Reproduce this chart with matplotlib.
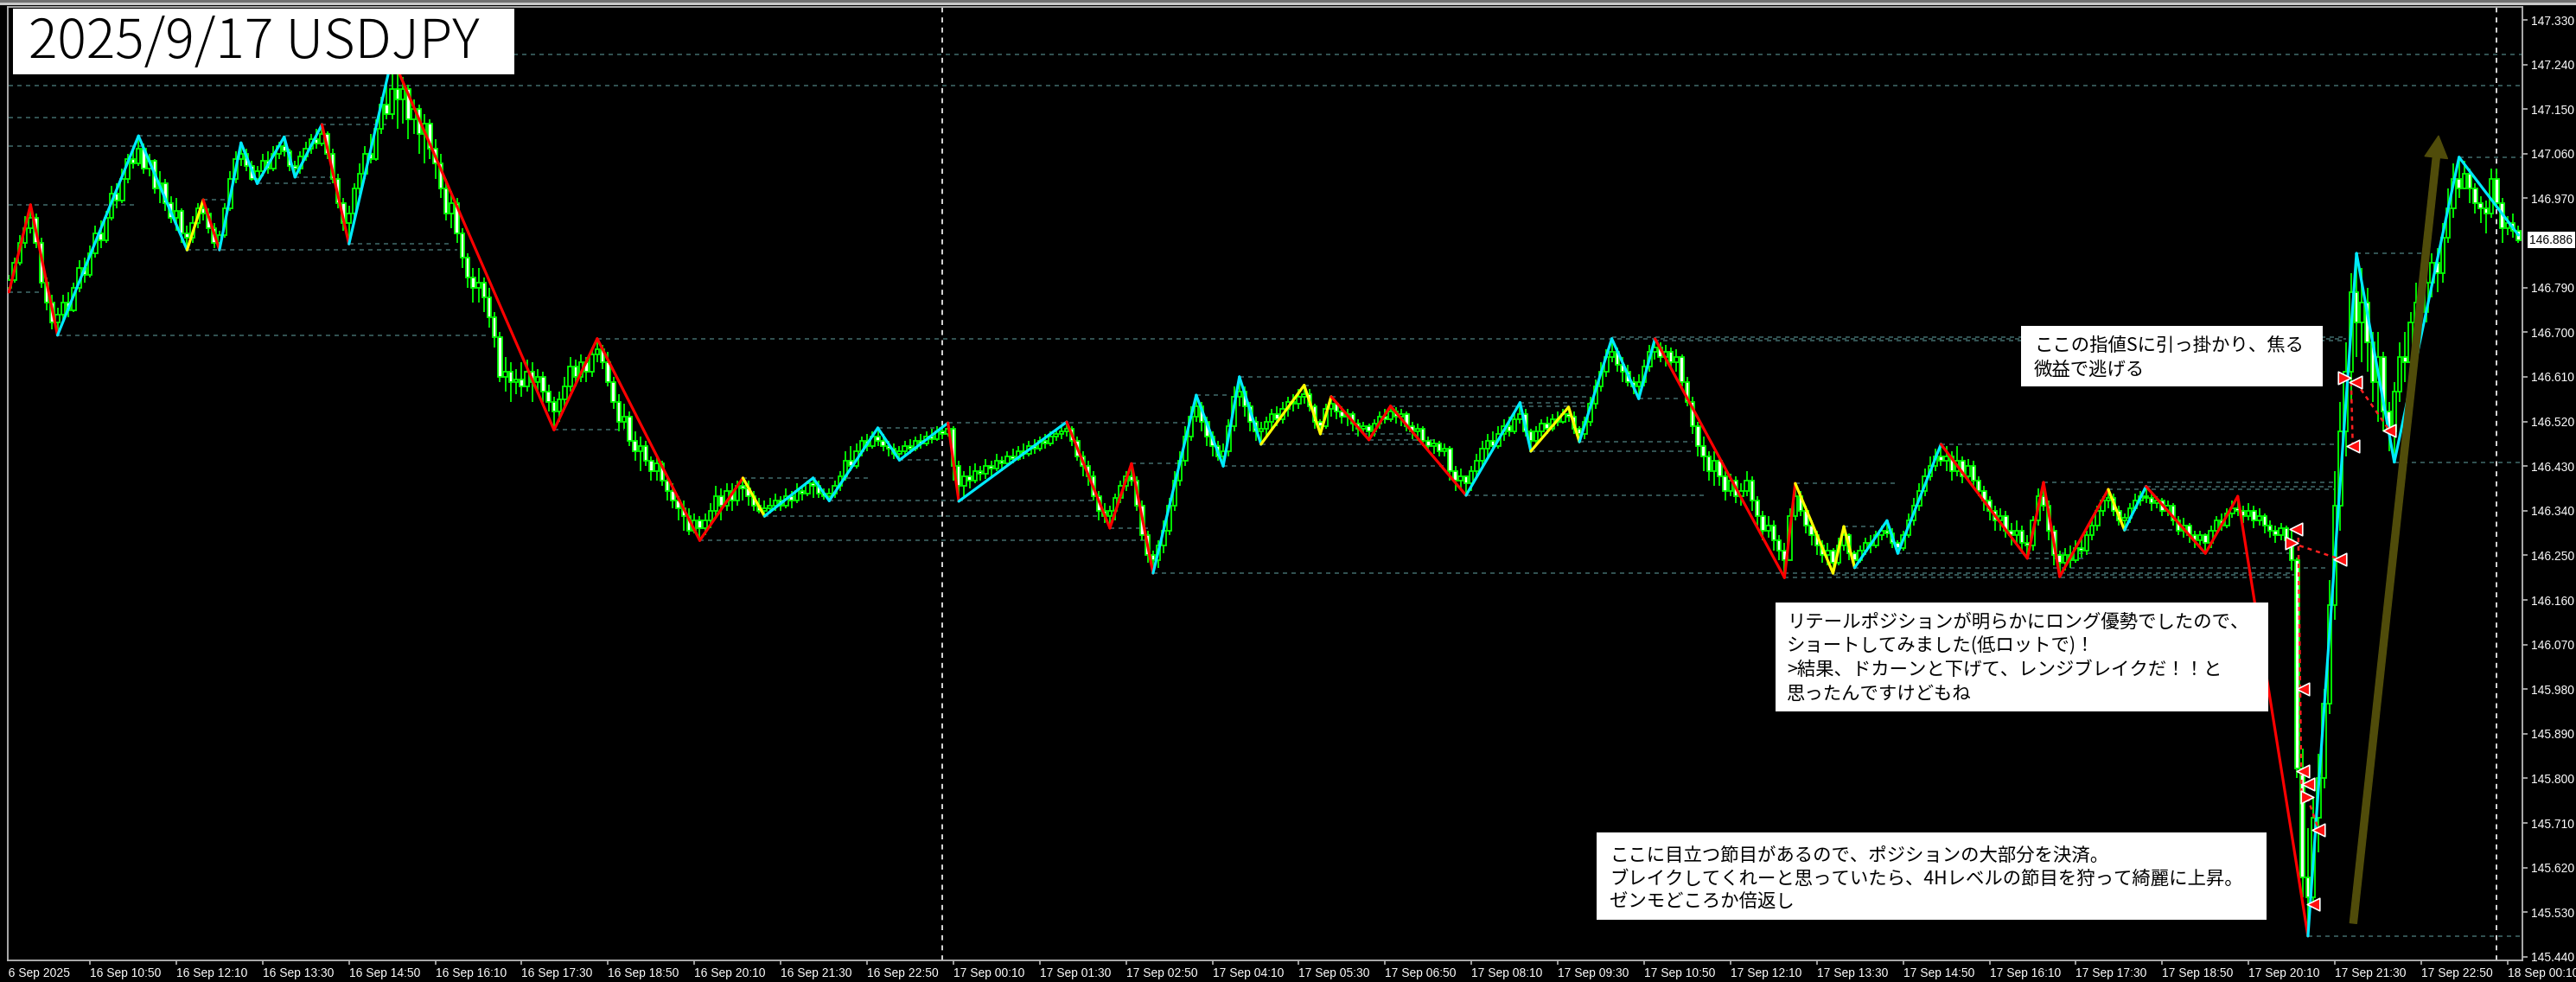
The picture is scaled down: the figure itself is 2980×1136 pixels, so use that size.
import numpy as np
import matplotlib
matplotlib.use("Agg")
import matplotlib.pyplot as plt
from matplotlib.patches import Rectangle, FancyArrowPatch, ArrowStyle
from matplotlib.transforms import blended_transform_factory, Bbox, TransformedBbox

# ---------------- data (prices in 0.001 JPY above 145.000) ----------------
BASE = 145.0
UNIT = 0.001
OPEN0 = 1790
CLOSE = [
 1805,1840,1880,1910,1930,1880,1800,1760,1720,1735,
 1760,1745,1790,1830,1815,1860,1900,1885,1930,1980,
 1965,2010,2050,2040,2070,2030,2045,1990,2000,1960,
 1930,1945,1900,1890,1920,1950,1940,1910,1880,1895,
 1950,2010,2050,2060,2035,2010,2025,2045,2030,2060,
 2075,2065,2035,2030,2055,2070,2090,2080,2100,2060,
 2010,1960,1920,1940,1990,2020,2060,2050,2110,2160,
 2140,2190,2170,2190,2130,2150,2100,2120,2070,2040,
 1990,1940,1960,1900,1850,1810,1790,1800,1770,1730,
 1690,1610,1620,1600,1605,1590,1620,1600,1610,1580,
 1560,1540,1565,1590,1630,1610,1640,1620,1655,1665,
 1640,1600,1560,1520,1530,1480,1460,1470,1440,1420,
 1435,1400,1380,1360,1345,1330,1300,1320,1305,1320,
 1340,1370,1350,1380,1360,1390,1385,1370,1350,1340,
 1345,1350,1360,1350,1370,1360,1380,1375,1395,1390,
 1375,1370,1375,1390,1410,1440,1430,1460,1480,1470,
 1490,1480,1470,1465,1455,1460,1470,1465,1480,1475,
 1490,1485,1500,1495,1505,1430,1390,1410,1400,1420,
 1415,1430,1425,1440,1435,1450,1445,1460,1455,1470,
 1465,1480,1475,1490,1495,1500,1505,1480,1450,1430,
 1410,1370,1340,1330,1340,1365,1390,1410,1400,1350,
 1290,1250,1240,1270,1300,1350,1400,1440,1490,1530,
 1550,1520,1490,1470,1450,1460,1510,1570,1580,1550,
 1520,1500,1505,1520,1535,1525,1545,1560,1555,1570,
 1575,1550,1520,1510,1545,1555,1540,1530,1535,1515,
 1505,1510,1500,1515,1530,1525,1540,1530,1535,1510,
 1500,1505,1480,1470,1475,1460,1465,1420,1400,1410,
 1395,1420,1440,1465,1480,1470,1495,1510,1500,1525,
 1535,1500,1480,1500,1515,1505,1525,1520,1535,1530,
 1505,1495,1520,1555,1590,1620,1650,1660,1635,1620,
 1600,1590,1600,1630,1660,1670,1650,1660,1640,1650,
 1600,1560,1510,1470,1450,1420,1440,1410,1380,1400,
 1370,1380,1400,1360,1330,1300,1310,1280,1260,1240,
 1330,1370,1340,1310,1290,1270,1250,1260,1235,1270,
 1290,1255,1240,1260,1275,1270,1290,1300,1295,1275,
 1265,1290,1320,1350,1380,1410,1430,1450,1440,1450,
 1420,1440,1410,1430,1400,1380,1360,1340,1320,1330,
 1300,1290,1300,1275,1270,1320,1370,1350,1300,1250,
 1235,1250,1240,1265,1260,1290,1310,1340,1360,1365,
 1340,1320,1325,1345,1360,1370,1365,1355,1360,1340,
 1350,1320,1300,1310,1290,1280,1290,1275,1300,1320,
 1310,1335,1345,1340,1330,1340,1320,1330,1310,1300,
 1290,1305,1280,1240, 820, 600, 560, 720, 800, 950,
 1150,1350,1500,1620,1780,1720,1760,1680,1600,1650,
 1540,1500,1580,1650,1640,1720,1760,1740,1800,1840,
 1820,1890,1950,2010,1990,2020,1990,1960,1950,1940,
 2010,1960,1910,1920,1905,1886]
HIGH = [
 1815,1850,1895,1935,1957,1940,1890,1810,1775,1750,
 1775,1780,1800,1845,1850,1875,1915,1925,1945,1995,
 2000,2030,2060,2075,2096,2080,2060,2050,2025,2010,
 1975,1970,1950,1915,1935,1960,1967,1950,1920,1905,
 1960,2025,2065,2082,2070,2045,2035,2060,2065,2075,
 2085,2094,2070,2045,2065,2085,2100,2110,2119,2105,
 2070,2020,1970,1955,2000,2040,2075,2100,2130,2175,
 2200,2255,2230,2215,2200,2170,2160,2140,2130,2090,
 2060,2010,1985,1970,1910,1860,1830,1830,1810,1790,
 1740,1700,1650,1640,1625,1640,1645,1640,1625,1620,
 1595,1570,1580,1610,1650,1645,1655,1650,1670,1687,
 1675,1660,1610,1575,1555,1540,1500,1490,1480,1450,
 1450,1440,1410,1395,1370,1360,1345,1335,1330,1335,
 1355,1390,1385,1395,1395,1400,1406,1400,1380,1365,
 1360,1365,1375,1370,1385,1380,1395,1390,1400,1406,
 1400,1385,1385,1400,1420,1460,1470,1475,1490,1495,
 1500,1507,1495,1480,1475,1470,1480,1485,1490,1495,
 1500,1505,1510,1512,1517,1510,1440,1420,1430,1435,
 1430,1445,1440,1455,1450,1460,1465,1470,1475,1480,
 1485,1490,1495,1500,1505,1510,1519,1510,1490,1460,
 1440,1420,1380,1355,1350,1375,1400,1420,1435,1410,
 1360,1300,1260,1280,1320,1365,1420,1460,1510,1550,
 1573,1560,1530,1500,1480,1475,1525,1590,1610,1590,
 1560,1530,1520,1530,1545,1550,1560,1570,1575,1585,
 1593,1585,1555,1525,1555,1570,1560,1550,1545,1540,
 1525,1520,1515,1525,1540,1545,1551,1548,1545,1540,
 1520,1515,1510,1490,1485,1480,1475,1470,1430,1425,
 1410,1430,1455,1480,1495,1500,1510,1525,1530,1540,
 1558,1545,1505,1510,1525,1530,1535,1540,1545,1549,
 1540,1510,1530,1570,1605,1640,1665,1687,1670,1650,
 1635,1610,1615,1645,1675,1687,1680,1675,1670,1665,
 1655,1610,1570,1520,1490,1460,1460,1450,1420,1415,
 1410,1395,1420,1410,1370,1340,1330,1320,1290,1275,
 1345,1395,1380,1350,1320,1300,1280,1275,1265,1285,
 1308,1295,1260,1270,1285,1290,1300,1310,1320,1305,
 1280,1300,1335,1365,1395,1425,1450,1465,1474,1470,
 1460,1470,1450,1445,1440,1410,1390,1370,1350,1345,
 1340,1315,1320,1310,1290,1330,1385,1397,1360,1310,
 1260,1265,1270,1280,1285,1300,1325,1350,1370,1383,
 1375,1350,1335,1355,1375,1380,1389,1375,1370,1365,
 1360,1355,1330,1325,1315,1300,1300,1295,1310,1330,
 1335,1345,1360,1369,1350,1355,1350,1345,1335,1320,
 1310,1315,1310,1300,1245, 860, 700, 760, 850, 980,
 1200,1420,1560,1680,1820,1859,1830,1790,1700,1700,
 1660,1560,1600,1680,1700,1740,1800,1790,1830,1860,
 1870,1920,1990,2040,2053,2045,2030,2000,1975,1965,
 2030,2030,1970,1935,1940,1915]
LOW = [
 1781,1800,1835,1870,1900,1870,1790,1745,1705,1694,
 1720,1730,1740,1780,1800,1810,1850,1870,1880,1925,
 1950,1960,2000,2030,2035,2020,2015,1980,1960,1945,
 1920,1905,1880,1866,1880,1910,1925,1900,1870,1866,
 1890,1945,2000,2035,2025,2005,2000,2015,2020,2025,
 2050,2055,2025,2013,2020,2045,2060,2070,2075,2050,
 2000,1950,1905,1878,1930,1980,2010,2040,2045,2100,
 2130,2130,2110,2120,2090,2100,2060,2040,2050,2010,
 1970,1925,1910,1880,1830,1790,1760,1760,1740,1710,
 1670,1600,1580,1560,1575,1570,1580,1560,1580,1560,
 1540,1503,1520,1550,1580,1590,1600,1600,1610,1640,
 1625,1590,1545,1500,1505,1470,1440,1420,1430,1400,
 1400,1390,1360,1345,1320,1300,1290,1295,1280,1290,
 1305,1330,1320,1340,1340,1350,1360,1350,1340,1335,
 1329,1335,1340,1340,1345,1345,1355,1360,1370,1365,
 1365,1362,1360,1365,1380,1400,1420,1425,1450,1460,
 1465,1470,1460,1450,1445,1442,1450,1455,1460,1465,
 1470,1475,1480,1485,1490,1400,1359,1370,1385,1395,
 1400,1405,1410,1420,1420,1430,1435,1440,1445,1450,
 1455,1460,1465,1470,1480,1485,1490,1470,1440,1410,
 1390,1360,1320,1315,1305,1320,1355,1380,1390,1340,
 1280,1235,1214,1225,1255,1290,1340,1390,1430,1480,
 1520,1500,1470,1450,1440,1430,1450,1500,1550,1530,
 1500,1480,1474,1490,1505,1510,1515,1530,1540,1545,
 1555,1540,1505,1495,1505,1530,1525,1515,1510,1500,
 1490,1495,1483,1490,1505,1515,1520,1515,1510,1500,
 1485,1480,1470,1460,1455,1450,1450,1400,1380,1385,
 1371,1380,1405,1430,1450,1460,1465,1480,1490,1495,
 1515,1490,1460,1470,1490,1495,1500,1510,1515,1520,
 1495,1479,1485,1510,1545,1580,1610,1640,1620,1600,
 1590,1575,1566,1590,1620,1645,1640,1630,1625,1620,
 1590,1550,1495,1450,1420,1400,1390,1390,1360,1370,
 1355,1350,1370,1340,1310,1280,1285,1260,1240,1205,
 1240,1320,1330,1295,1270,1250,1235,1230,1214,1230,
 1260,1240,1225,1235,1250,1255,1265,1280,1285,1265,
 1254,1260,1285,1310,1340,1370,1400,1420,1430,1420,
 1400,1410,1395,1400,1385,1370,1340,1320,1300,1300,
 1285,1270,1275,1260,1244,1260,1310,1340,1280,1230,
 1207,1220,1225,1235,1245,1250,1280,1300,1330,1345,
 1330,1310,1301,1315,1340,1350,1355,1340,1345,1330,
 1330,1310,1290,1285,1275,1265,1270,1254,1265,1290,
 1300,1305,1325,1330,1315,1320,1305,1310,1295,1285,
 1275,1280,1265,1220, 800, 560, 482, 540, 650, 780,
  930,1120,1300,1450,1560,1650,1640,1620,1560,1520,
 1500,1460,1438,1560,1600,1620,1700,1690,1720,1770,
 1780,1800,1880,1930,1970,1990,1960,1940,1920,1900,
 1930,1950,1880,1895,1890,1880]

# zigzag pivots (bar index, price) and colour of each leg
ZZ_BAR = [0, 4, 9, 24, 33, 36, 39, 43, 46, 51, 53, 58, 63, 71, 101, 109, 128, 136, 140,
          149, 152, 161, 165, 174, 176, 196, 204, 208, 212, 220, 225, 228, 232, 240, 243,
          245, 252, 256, 270, 280, 282, 289, 291, 297, 302, 305, 329, 331, 338, 340, 342,
          348, 350, 358, 374, 377, 380, 389, 392, 396, 407, 413, 426, 435, 442, 454, 465]
ZZ_PRICE = [146.781, 146.957, 146.694, 147.096, 146.866, 146.967, 146.866, 147.082, 147.000,
            147.094, 147.013, 147.119, 146.878, 147.255, 146.503, 146.687, 146.280, 146.406,
            146.329, 146.406, 146.360, 146.507, 146.442, 146.517, 146.359, 146.519, 146.305,
            146.435, 146.214, 146.573, 146.430, 146.610, 146.474, 146.593, 146.495, 146.570,
            146.483, 146.551, 146.371, 146.558, 146.460, 146.549, 146.479, 146.687, 146.566,
            146.687, 146.205, 146.395, 146.214, 146.308, 146.225, 146.320, 146.254, 146.474,
            146.244, 146.397, 146.207, 146.383, 146.301, 146.389, 146.254, 146.369, 145.482,
            146.859, 146.438, 147.053, 146.896]
ZZ_LEG = "RRCCYRCCCCCRCRRRRYCCCCCRCRRRCCCCYYYRRRCCYYCCCRRYYYCCCRRRRYCRRRCCCC"

# support / resistance levels: price, first bar, last bar
LEVEL_PRICE = [147.197, 147.260, 147.133, 147.075, 147.096, 147.119, 147.013, 147.000,
               146.967, 146.957, 146.866, 146.878, 146.781, 146.694, 146.687, 146.690,
               146.684, 146.503, 146.406, 146.360, 146.329, 146.280, 146.507, 146.517,
               146.442, 146.305, 146.435, 146.214, 146.573, 146.610, 146.593, 146.570,
               146.551, 146.558, 146.474, 146.495, 146.483, 146.430, 146.371, 146.479,
               146.460, 146.566, 146.474, 146.395, 146.308, 146.254, 146.225, 146.205,
               146.210, 146.397, 146.383, 146.389, 146.301, 146.244, 146.438, 146.859,
               147.053, 145.482]
LEVEL_START = [0, 71, 0, 0, 24, 58, 53, 46, 36, 0, 33, 63, 0, 9, 109, 297, 305, 101, 136,
               152, 140, 128, 161, 174, 165, 204, 208, 212, 220, 228, 240, 245, 256, 280,
               232, 243, 252, 225, 270, 291, 282, 302, 358, 331, 340, 350, 342, 329, 338,
               377, 389, 396, 392, 374, 442, 435, 454, 426]
LEVEL_END = [466, 466, 68, 41, 55, 70, 60, 60, 40, 24, 83, 82, 6, 89, 433, 433, 433, 114,
             160, 201, 202, 211, 174, 218, 173, 211, 217, 424, 226, 294, 293, 293, 293, 293,
             264, 260, 264, 267, 314, 312, 312, 310, 432, 350, 346, 423, 430, 424, 424, 431,
             431, 431, 401, 385, 466, 448, 466, 466]

# trade history markers
TRADE_BAR = [432.8, 434.9, 441.1, 434.3, 423.8, 422.9, 432.0, 425.0, 425.0, 426.0, 425.9, 428.0, 427.0]
TRADE_PRICE = [146.608, 146.599, 146.502, 146.470, 146.303, 146.275, 146.242, 145.980, 145.815,
               145.789, 145.762, 145.696, 145.546]
TRADE_MARK = [">", "<", "<", "<", "<", ">", "<", "<", "<", "<", ">", "<", "<"]
TRADE_LINES = [((434.9, 146.599), (441.1, 146.502)), ((434.0, 146.600), (434.3, 146.470)),
               ((422.9, 146.275), (432.0, 146.242)), ((424.2, 146.303), (424.8, 145.770)),
               ((425.9, 145.762), (428.0, 145.696))]

DAY_SEPARATORS = [173, 461]
CURRENT_PRICE = 146.886
TIME_TICK_BARS = [15 + 16 * k for k in range(29)]
TIME_LABELS = ["16 Sep 10:50", "16 Sep 12:10", "16 Sep 13:30", "16 Sep 14:50", "16 Sep 16:10",
               "16 Sep 17:30", "16 Sep 18:50", "16 Sep 20:10", "16 Sep 21:30", "16 Sep 22:50",
               "17 Sep 00:10", "17 Sep 01:30", "17 Sep 02:50", "17 Sep 04:10", "17 Sep 05:30",
               "17 Sep 06:50", "17 Sep 08:10", "17 Sep 09:30", "17 Sep 10:50", "17 Sep 12:10",
               "17 Sep 13:30", "17 Sep 14:50", "17 Sep 16:10", "17 Sep 17:30", "17 Sep 18:50",
               "17 Sep 20:10", "17 Sep 21:30", "17 Sep 22:50", "18 Sep 00:10"]
PRICE_TICKS = [147.330, 147.240, 147.150, 147.060, 146.970, 146.790, 146.700, 146.610,
               146.520, 146.430, 146.340, 146.250, 146.160, 146.070, 145.980, 145.890,
               145.800, 145.710, 145.620, 145.530, 145.440]

TITLE = "2025/9/17 USDJPY"
NOTE1 = ["ここの指値Sに引っ掛かり、焦る", "微益で逃げる"]
NOTE2 = ["リテールポジションが明らかにロング優勢でしたので、", "ショートしてみました(低ロットで)！",
         ">結果、ドカーンと下げて、レンジブレイクだ！！と", "思ったんですけどもね"]
NOTE3 = ["ここに目立つ節目があるので、ポジションの大部分を決済。",
         "ブレイクしてくれーと思っていたら、4Hレベルの節目を狩って綺麗に上昇。",
         "ゼンモどころか倍返し"]

# ---------------- figure ----------------
W, H = 2980, 1136
fig = plt.figure(figsize=(W / 100, H / 100), dpi=100, facecolor="black")
L_PX, R_PX, T_PX, B_PX = 9, 2918, 8, 1111
ax = fig.add_axes([L_PX / W, 1 - B_PX / H, (R_PX - L_PX) / W, (B_PX - T_PX) / H])
ax.set_facecolor("black")
ax.set_xlim(-0.22, 465.74)
ax.set_ylim(145.4329, 147.3562)

c = BASE + UNIT * np.array(CLOSE, float)
h = BASE + UNIT * np.array(HIGH, float)
l = BASE + UNIT * np.array(LOW, float)
o = np.concatenate([[BASE + UNIT * OPEN0], c[:-1]])
h = np.maximum(h, np.maximum(o, c))
l = np.minimum(l, np.minimum(o, c))
x = np.arange(len(c))
assert len(c) == len(h) == len(l) == 466

# levels
lev_col = "#3b6262"
for p, s, e in zip(LEVEL_PRICE, LEVEL_START, LEVEL_END):
    ax.plot([s, e], [p, p], color=lev_col, lw=1.2, ls=(0, (3, 3)), zorder=1)

# day separators
for d in DAY_SEPARATORS:
    ax.axvline(d, color="#d8d8d8", lw=1.4, ls=(0, (3, 3)), zorder=1.5)

# candles
lime = "#00ff00"
ax.vlines(x, l, h, color=lime, lw=1.3, zorder=2)
bull = c >= o
bodies_h = np.maximum(np.abs(c - o), 0.0008)
ax.bar(x[bull], bodies_h[bull], bottom=np.minimum(o, c)[bull], width=0.72,
       facecolor="black", edgecolor=lime, linewidth=1.3, zorder=3)
ax.bar(x[~bull], bodies_h[~bull], bottom=np.minimum(o, c)[~bull], width=0.72,
       facecolor="#f2fff2", edgecolor=lime, linewidth=1.3, zorder=3)

# zigzag
leg_colors = {"R": "#ff0000", "C": "#00eaff", "Y": "#ffff00"}
for k in range(len(ZZ_BAR) - 1):
    ax.plot([ZZ_BAR[k], ZZ_BAR[k + 1]], [ZZ_PRICE[k], ZZ_PRICE[k + 1]],
            color=leg_colors[ZZ_LEG[k]], lw=2.3, solid_capstyle="round", zorder=5)

# trade markers
for (a, b) in TRADE_LINES:
    ax.plot([a[0], b[0]], [a[1], b[1]], color="#ff2020", lw=1.8, ls=(0, (2, 2)), zorder=6)
for bx, bp, m in zip(TRADE_BAR, TRADE_PRICE, TRADE_MARK):
    ax.scatter([bx], [bp], marker=m, s=110, facecolor="#ff1010", edgecolor="white",
               linewidths=1.2, zorder=7)

# olive arrow
arr = FancyArrowPatch((434.4, 145.508), (450.2, 147.096),
                      arrowstyle=ArrowStyle.Simple(head_length=18, head_width=19, tail_width=5.8),
                      mutation_scale=1, shrinkA=0, shrinkB=0, color="#504c0a", zorder=8)
ax.add_patch(arr)

# axes styling
for sp in ax.spines.values():
    sp.set_color("#b8b8b8")
    sp.set_linewidth(1.3)
ax.yaxis.tick_right()
ax.set_yticks(PRICE_TICKS)
ax.set_yticklabels([f"{p:.3f}" for p in PRICE_TICKS])
ax.set_xticks(TIME_TICK_BARS)
ax.set_xticklabels(TIME_LABELS, ha="left")
ax.tick_params(axis="y", colors="#b8b8b8", labelcolor="white", length=4, width=1.2,
               direction="out", pad=3, labelsize=10)
ax.tick_params(axis="x", colors="#b8b8b8", labelcolor="white", length=3.5, width=1.2,
               direction="out", pad=2, labelsize=10)
for lbl in ax.get_xticklabels() + ax.get_yticklabels():
    lbl.set_family("Liberation Sans")

trans = blended_transform_factory(ax.transAxes, ax.transData)
ax.annotate(f"{CURRENT_PRICE:.3f}", xy=(1.0, CURRENT_PRICE), xycoords=trans,
            xytext=(6, 0), textcoords="offset points", ha="left", va="center",
            fontsize=10, family="Liberation Sans", color="black",
            bbox=dict(boxstyle="square,pad=0.18", fc="white", ec="none"),
            annotation_clip=False)

# ---------------- overlay (pixel space) ----------------
ov = fig.add_axes([0, 0, 1, 1], zorder=10)
ov.set_xlim(0, W)
ov.set_ylim(H, 0)
ov.axis("off")
ov.patch.set_alpha(0)

# window frame at top
ov.add_patch(Rectangle((0, 0), W, 3, fc="#707070", ec="none"))
ov.add_patch(Rectangle((0, 3), W, 3, fc="#c8c8c8", ec="none"))

# first date label, clipped at the chart's left border
t0 = ov.text(2, 1126, "16 Sep 2025", color="white", fontsize=10, family="Liberation Sans",
             va="center", ha="left", clip_on=True)
t0.set_clip_box(TransformedBbox(Bbox([[L_PX + 1, 1112], [W, H]]), ov.transData))

jp = ["Noto Sans CJK JP", "DejaVu Sans"]
ov.add_patch(Rectangle((15, 10), 580, 76, fc="white", ec="none"))
ov.text(33, 50, TITLE, fontsize=45, family=jp, weight="light", color="black",
        va="center", ha="left")

def note(x0, y0, w, hgt, lines, tx, ty, dy):
    ov.add_patch(Rectangle((x0, y0), w, hgt, fc="white", ec="none"))
    for k, s in enumerate(lines):
        ov.text(tx, ty + k * dy, s, fontsize=15.4, family=jp, color="black",
                va="center", ha="left")

note(2338, 377, 349, 70, NOTE1, 2353, 400, 28)
note(2054, 697, 570, 126, NOTE2, 2067, 720, 27.7)
note(1847, 963, 775, 101, NOTE3, 1862, 990, 26.5)

fig.savefig("out.png", dpi=100, facecolor="black")
